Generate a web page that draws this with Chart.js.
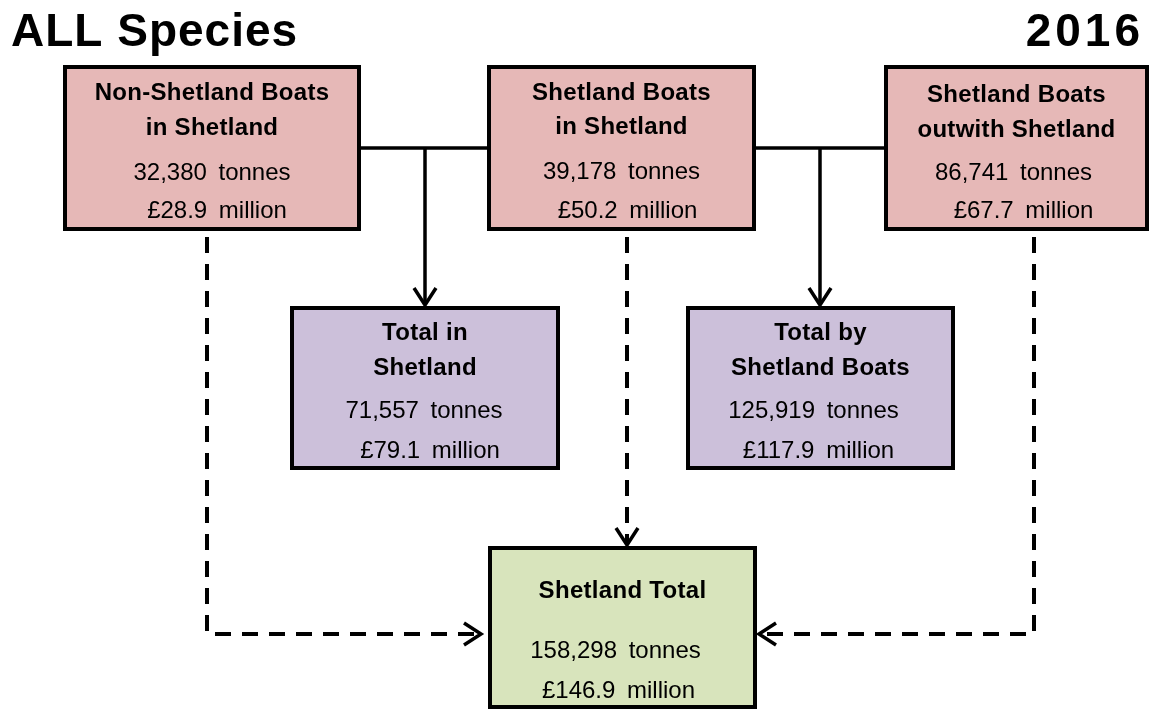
<!DOCTYPE html>
<html>
<head>
<meta charset="utf-8">
<script src="https://cdn.jsdelivr.net/npm/chart.js@4/dist/chart.umd.min.js"></script>
<style>
  html, body { margin: 0; padding: 0; background: #ffffff; }
  #wrap { width: 1151px; height: 709px; position: relative; }
</style>
</head>
<body>
<div id="wrap"><canvas id="c"></canvas></div>
<script>
// ---- data ----
const chartTitle = "ALL Species";
const chartYear = "2016";
const boxTitles = [
  ["Non-Shetland Boats", "in Shetland"],
  ["Shetland Boats", "in Shetland"],
  ["Shetland Boats", "outwith Shetland"],
  ["Total in", "Shetland"],
  ["Total by", "Shetland Boats"],
  ["Shetland Total"]
];
const tonnes = [32380, 39178, 86741, 71557, 125919, 158298];
const millions = [28.9, 50.2, 67.7, 79.1, 117.9, 146.9];

// ---- layout (positions / styles, in scale units) ----
const PINK = "#E6B8B7", PURPLE = "#CCC0DA", GREEN = "#D8E4BC";
const boxLayout = [
  { x0: 65,  y0: 67,  x1: 359,  y1: 229, fill: PINK,   t: [100, 135], n: [180, 218], dx: [0, 5] },
  { x0: 489, y0: 67,  x1: 754,  y1: 229, fill: PINK,   t: [100, 134], n: [179, 218], dx: [0, 6] },
  { x0: 886, y0: 67,  x1: 1147, y1: 229, fill: PINK,   t: [102, 137], n: [180, 218], dx: [-3, 7] },
  { x0: 292, y0: 308, x1: 558,  y1: 468, fill: PURPLE, t: [340, 375], n: [418, 458], dx: [-1, 5] },
  { x0: 688, y0: 308, x1: 953,  y1: 468, fill: PURPLE, t: [340, 375], n: [418, 458], dx: [-7, -2] },
  { x0: 490, y0: 548, x1: 755,  y1: 707, fill: GREEN,  t: [598],      n: [658, 698], dx: [-7, -4] }
];
const solidLinks = [
  { pts: [[359, 148], [489, 148]] },
  { pts: [[754, 148], [886, 148]] },
  { pts: [[425, 148], [425, 305]], arrow: "down" },
  { pts: [[820, 148], [820, 305]], arrow: "down" }
];
const dashedLinks = [
  { pts: [[207, 237], [207, 634], [481, 634]], arrow: "right" },
  { pts: [[627, 237], [627, 545]], arrow: "down" },
  { pts: [[1034, 237], [1034, 634], [759, 634]], arrow: "left" }
];

function fmtT(v) { return v.toLocaleString("en-GB") + " tonnes"; }
function fmtM(v) { return "\u00A3" + v.toFixed(1) + " million"; }

const flowPlugin = {
  id: "flow",
  afterDraw(chart) {
    const ctx = chart.ctx;
    const xs = chart.scales.x, ys = chart.scales.y;
    const X = v => xs.getPixelForValue(v);
    const Y = v => ys.getPixelForValue(v);
    ctx.save();
    ctx.strokeStyle = "#000";
    ctx.lineCap = "butt";
    ctx.lineJoin = "miter";

    function arrowHead(px, py, dir) {
      const L = 17, W = 11;
      ctx.save();
      ctx.setLineDash([]);
      ctx.lineWidth = 3.5;
      ctx.beginPath();
      if (dir === "down") { ctx.moveTo(px - W, py - L); ctx.lineTo(px, py); ctx.lineTo(px + W, py - L); }
      if (dir === "right") { ctx.moveTo(px - L, py - W); ctx.lineTo(px, py); ctx.lineTo(px - L, py + W); }
      if (dir === "left") { ctx.moveTo(px + L, py - W); ctx.lineTo(px, py); ctx.lineTo(px + L, py + W); }
      ctx.stroke();
      ctx.restore();
    }
    function drawLink(l, dashed) {
      ctx.lineWidth = dashed ? 4 : 3.5;
      ctx.setLineDash(dashed ? [16, 11] : []);
      ctx.beginPath();
      l.pts.forEach((p, i) => {
        const px = X(p[0]), py = Y(p[1]);
        if (i === 0) ctx.moveTo(px, py); else ctx.lineTo(px, py);
      });
      ctx.stroke();
      if (l.arrow) {
        const last = l.pts[l.pts.length - 1];
        arrowHead(X(last[0]), Y(last[1]), l.arrow);
      }
    }
    solidLinks.forEach(l => drawLink(l, false));
    dashedLinks.forEach(l => drawLink(l, true));
    ctx.setLineDash([]);

    // boxes
    boxLayout.forEach((b, i) => {
      const x0 = X(b.x0), x1 = X(b.x1), y0 = Y(b.y0), y1 = Y(b.y1);
      ctx.fillStyle = b.fill;
      ctx.fillRect(x0, y0, x1 - x0, y1 - y0);
      ctx.lineWidth = 4;
      ctx.strokeRect(x0, y0, x1 - x0, y1 - y0);
      const cx = (x0 + x1) / 2;
      ctx.fillStyle = "#000";
      ctx.textAlign = "center";
      ctx.textBaseline = "alphabetic";
      ctx.letterSpacing = "0.3px";
      ctx.wordSpacing = "0px";
      ctx.font = "bold 24px 'Liberation Sans', Arial, sans-serif";
      boxTitles[i].forEach((s, k) => ctx.fillText(s, cx, Y(b.t[k])));
      ctx.letterSpacing = "0px";
      ctx.wordSpacing = "5px";
      ctx.font = "24px 'Liberation Sans', Arial, sans-serif";
      ctx.fillText(fmtT(tonnes[i]), cx + b.dx[0], Y(b.n[0]));
      ctx.fillText(fmtM(millions[i]), cx + b.dx[1], Y(b.n[1]));
    });

    // headings
    ctx.wordSpacing = "0px";
    ctx.letterSpacing = "1px";
    ctx.font = "bold 46px 'Liberation Sans', Arial, sans-serif";
    ctx.textAlign = "left";
    ctx.fillText(chartTitle, X(11), Y(46));
    ctx.textAlign = "right";
    ctx.letterSpacing = "4px";
    ctx.fillText(chartYear, X(1144), Y(46));
    ctx.restore();
  }
};

new Chart(document.getElementById("c"), {
  type: "scatter",
  data: { datasets: [{ data: [], pointRadius: 0 }] },
  options: {
    responsive: true,
    maintainAspectRatio: false,
    devicePixelRatio: 1,
    animation: false,
    events: [],
    layout: { padding: 0 },
    plugins: { legend: { display: false }, tooltip: { enabled: false }, title: { display: false } },
    scales: {
      x: { type: "linear", min: 0, max: 1151, display: false },
      y: { type: "linear", min: 0, max: 709, reverse: true, display: false }
    }
  },
  plugins: [flowPlugin]
});
</script>
</body>
</html>
